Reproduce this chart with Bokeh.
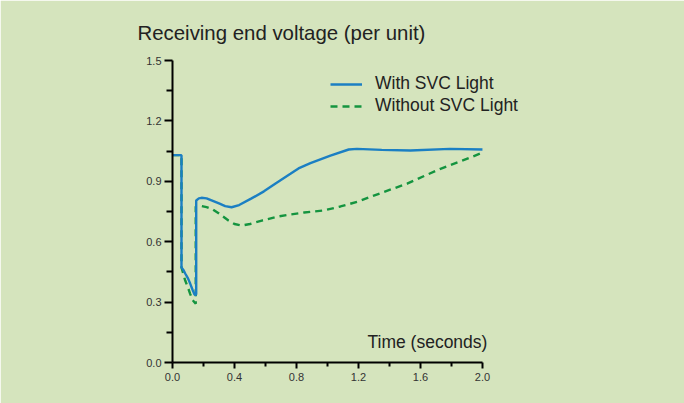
from bokeh.plotting import figure
from bokeh.models import FixedTicker, Label, Legend, LegendItem, Range1d, PrintfTickFormatter
from bokeh.embed import file_html
from bokeh.resources import INLINE

# ---- data ----
t_with = [0, 0.058, 0.058, 0.07, 0.082, 0.1, 0.114, 0.13, 0.142, 0.150, 0.153, 0.153,
          0.17, 0.187, 0.22, 0.252, 0.3, 0.34, 0.381, 0.43, 0.51, 0.59, 0.665, 0.761,
          0.813, 0.89, 1.019, 1.137, 1.19, 1.35, 1.535, 1.79, 2.0]
v_with = [1.03, 1.03, 0.472, 0.46, 0.442, 0.418, 0.392, 0.36, 0.338, 0.335, 0.34, 0.805,
          0.815, 0.818, 0.815, 0.805, 0.79, 0.777, 0.771, 0.782, 0.815, 0.85, 0.889, 0.937,
          0.964, 0.990, 1.028, 1.058, 1.061, 1.056, 1.053, 1.061, 1.058]

t_without = [0, 0.058, 0.058, 0.07, 0.082, 0.1, 0.114, 0.13, 0.15, 0.15, 0.17, 0.189, 0.22,
             0.254, 0.3, 0.361, 0.4, 0.447, 0.5, 0.576, 0.68, 0.761, 0.85, 0.976, 1.084,
             1.2, 1.299, 1.4, 1.514, 1.62, 1.729, 1.86, 2.0]
v_without = [1.03, 1.03, 0.472, 0.44, 0.407, 0.372, 0.341, 0.31, 0.292, 0.775, 0.777, 0.777,
             0.772, 0.763, 0.74, 0.705, 0.688, 0.68, 0.688, 0.705, 0.725, 0.735, 0.745, 0.755,
             0.775, 0.80, 0.829, 0.857, 0.888, 0.925, 0.962, 1.0, 1.042]

y_ticks = [0.0, 0.3, 0.6, 0.9, 1.2, 1.5]
y_minor = [0.15, 0.45, 0.75, 1.05, 1.35]
x_ticks = [0.0, 0.4, 0.8, 1.2, 1.6, 2.0]
x_minor = [0.2, 0.6, 1.0, 1.4, 1.8]

series_names = ["With SVC Light", "Without SVC Light"]
title_text = "Receiving end voltage (per unit)"
xlabel_text = "Time (seconds)"

BG = "#d5e4bd"
BLUE = "#1b7fc3"
GREEN = "#14943f"
FONT = "Liberation Sans"

# x range extends past 2.0 so the legend and axis label are not clipped;
# the axis itself is bounded to 0..2
p = figure(width=684, height=403, output_backend="svg", toolbar_location=None,
           x_range=Range1d(0, 2.31), y_range=Range1d(0, 1.5),
           min_border_left=172, min_border_right=154, min_border_top=60,
           min_border_bottom=41)
p.background_fill_color = BG
p.border_fill_color = BG
p.outline_line_color = BG
p.outline_line_width = 2
p.grid.visible = False

for ax in (p.xaxis[0], p.yaxis[0]):
    ax.axis_line_color = "black"
    ax.axis_line_width = 2
    ax.major_tick_line_color = "black"
    ax.major_tick_line_width = 2
    ax.minor_tick_line_color = "black"
    ax.minor_tick_line_width = 2
    ax.major_tick_in = 0
    ax.minor_tick_in = 0
    ax.major_label_text_font = FONT
    ax.major_label_text_font_size = "11px"
    ax.major_label_text_color = "#333333"
    ax.formatter = PrintfTickFormatter(format="%.1f")

p.xaxis.bounds = (0, 2.0)
p.yaxis.ticker = FixedTicker(ticks=y_ticks, minor_ticks=y_minor)
p.xaxis.ticker = FixedTicker(ticks=x_ticks, minor_ticks=x_minor)
p.yaxis.major_tick_out = 8
p.yaxis.minor_tick_out = 6
p.xaxis.major_tick_out = 6
p.xaxis.minor_tick_out = 4
p.yaxis.major_label_standoff = 3
p.xaxis.major_label_standoff = 4

r1 = p.line(t_with, v_with, line_color=BLUE, line_width=2.4)
r2 = p.line(t_without, v_without, line_color=GREEN, line_width=2.4, line_dash="7 5")
p.renderers = [r2, r1]

legend = Legend(items=[LegendItem(label=series_names[0], renderers=[r1]),
                       LegendItem(label=series_names[1], renderers=[r2])],
                location=(158, 246), padding=0, margin=0, spacing=1,
                glyph_width=32, glyph_height=20, label_height=20, label_standoff=13,
                label_text_font=FONT, label_text_font_size="17.5px",
                label_text_color="#222222", background_fill_alpha=0,
                border_line_color=None)
p.add_layout(legend)

p.title.text = title_text
p.title.align = "left"
p.title.offset = -35
p.title.standoff = 33
p.title.text_font = FONT
p.title.text_font_size = "20.4px"
p.title.text_font_style = "normal"
p.title.text_color = "#222222"

p.add_layout(Label(x=2.032, y=0.104, text=xlabel_text, text_font=FONT,
                   text_font_size="17.5px", text_color="#222222", text_baseline="middle",
                   text_align="right"))

open("out.html", "w").write(file_html(p, INLINE))
